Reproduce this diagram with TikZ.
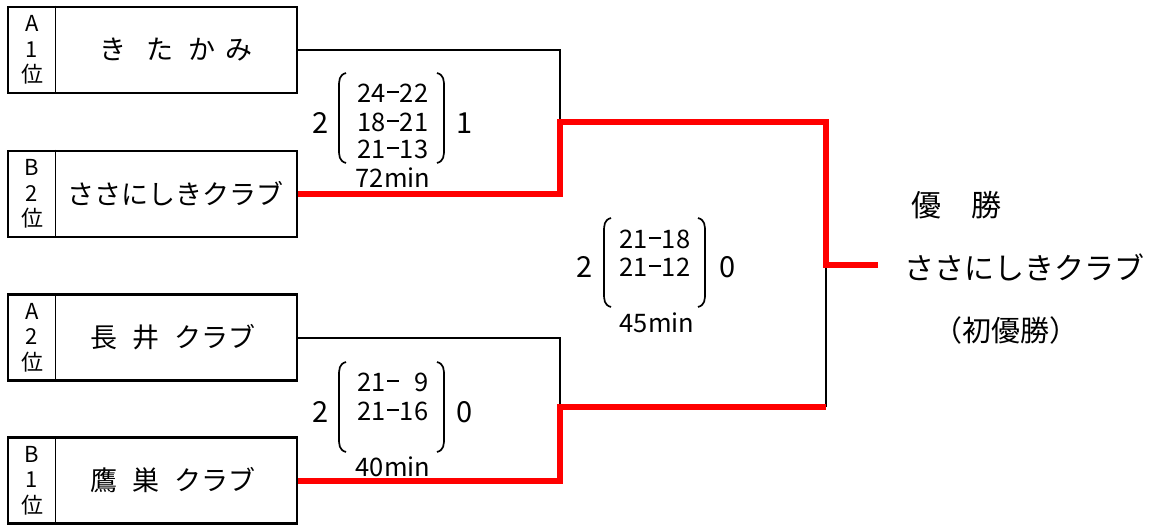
\documentclass[tikz,border=0pt]{standalone}
\usepackage{fontspec}
\setmainfont{Noto Sans CJK JP}
\newcommand{\mdash}{\kern0.04em\rule[0.36em]{0.46em}{0.085em}\kern0.04em}
\begin{document}
\begin{tikzpicture}[x=1pt,y=-1pt,
  teambox/.style={draw, line width=2.6pt, minimum width=289pt, minimum height=86pt, inner sep=0pt},
  rank/.style={align=center, font=\fontsize{22}{25.5}\selectfont, inner sep=0pt},
  tname/.style={font=\fontsize{27}{30}\selectfont, inner sep=0pt},
  score/.style={font=\fontsize{25.5}{28}\selectfont, inner sep=0pt},
  sets/.style={font=\fontsize{29}{30}\selectfont, inner sep=0pt},
  wtext/.style={font=\fontsize{30}{34}\selectfont, inner sep=0pt},
  blk/.style={line width=2pt, black},
  win/.style={line width=6pt, red},
  paren/.style={line width=1.7pt},
  divider/.style={line width=1pt},
]
\useasboundingbox (0,0) rectangle (1151,527);

% team boxes
\node[teambox] (t1) at (152.5,50) {};
\node[teambox] (t2) at (152.5,194) {};
\node[teambox] (t3) at (152.5,337.5) {};
\node[teambox] (t4) at (152.5,480.5) {};
\foreach \t in {t1,t2,t3,t4}
  \draw[divider] ([xshift=49pt]\t.north west) -- ([xshift=49pt]\t.south west);

\node[rank] (r1) at (32,50) {A\\1\\位};
\node[rank] (r2) at (32,194) {B\\2\\位};
\node[rank] (r3) at (32,337.5) {A\\2\\位};
\node[rank] (r4) at (32,480.5) {B\\1\\位};

\node[tname] (n1) at (176,50) {き\hspace{0.75em}た\hspace{0.55em}か\hspace{0.35em}み};
\node[tname] (n2) at (175,194) {ささにしきクラブ};
\node[tname] (n3) at (173,337.5) {長\hspace{0.55em}井\hspace{0.55em}クラブ};
\node[tname] (n4) at (173,480.5) {鷹\hspace{0.55em}巣\hspace{0.55em}クラブ};

% junctions
\coordinate (j1) at (560,122);
\coordinate (j2) at (560,407);
\coordinate (f) at (826,265);
\coordinate (k2) at (826,407);
\coordinate (w) at (878,265);

% black connectors
\draw[blk] (t1.east) -| (j1);
\draw[blk] (t3.east) -| (j2);
\draw[blk] (k2) -- (f);
% red winner path
\draw[win] (t2.east) -| (j1) -| (f) -- (w);
\draw[win] (t4.east) -| (j2) -- (k2);

% match 1 score
\node[sets] (m1a) at (321,123) {2};
\node[sets] (m1b) at (465,123) {1};
\draw[paren] (346,73) .. controls (339,75) and (339,80) .. (339,88) -- (339,148) .. controls (339,156) and (339,161) .. (346,163);
\draw[paren] (437,73) .. controls (444,75) and (444,80) .. (444,88) -- (444,148) .. controls (444,156) and (444,161) .. (437,163);
\node[score] (s11) at (393,93) {24\mdash22};
\node[score] (s12) at (393,122) {18\mdash21};
\node[score] (s13) at (393,149) {21\mdash13};
\node[score] (s14) at (393,178) {72min};

% match 2 score
\node[sets] (m2a) at (321,412) {2};
\node[sets] (m2b) at (465,412) {0};
\draw[paren] (346,362) .. controls (339,364) and (339,369) .. (339,377) -- (339,437) .. controls (339,445) and (339,450) .. (346,452);
\draw[paren] (437,362) .. controls (444,364) and (444,369) .. (444,377) -- (444,437) .. controls (444,445) and (444,450) .. (437,452);
\node[score] (s21) at (393,382) {21\mdash\hphantom{1}9};
\node[score] (s22) at (393,411) {21\mdash16};
\node[score] (s23) at (393,467) {40min};

% final score
\node[sets] (m3a) at (585,267) {2};
\node[sets] (m3b) at (728,267) {0};
\draw[paren] (611,218) .. controls (604,220) and (604,225) .. (604,233) -- (604,292) .. controls (604,300) and (604,305) .. (611,307);
\draw[paren] (698,218) .. controls (705,220) and (705,225) .. (705,233) -- (705,292) .. controls (705,300) and (705,305) .. (698,307);
\node[score] (s31) at (655,239) {21\mdash18};
\node[score] (s32) at (655,267) {21\mdash12};
\node[score] (s33) at (657,323) {45min};

% winner
\node[wtext] (wt) at (956,205) {優\hspace{1em}勝};
\node[wtext] (wn) at (1024,267) {ささにしきクラブ};
\node[font=\fontsize{29}{32}\selectfont, inner sep=0pt] (wf) at (1006,330) {（初優勝）};
\end{tikzpicture}
\end{document}
